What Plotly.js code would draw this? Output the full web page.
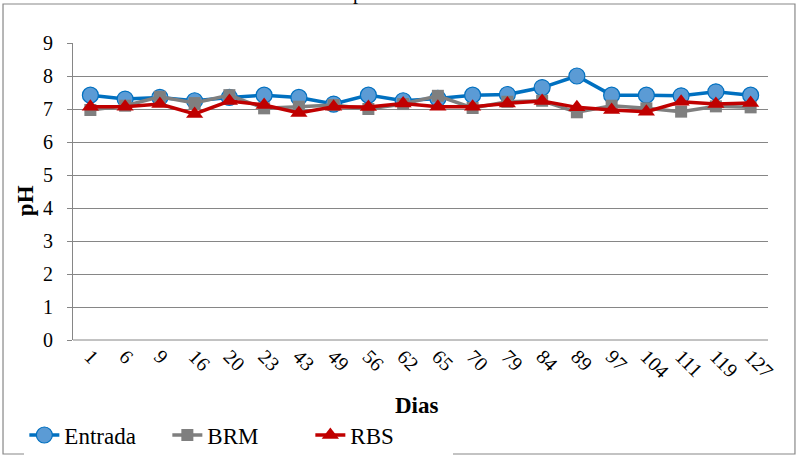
<!DOCTYPE html>
<html>
<head>
<meta charset="utf-8">
<script src="https://cdn.plot.ly/plotly-3.0.1.min.js"></script>
<style>
html,body{margin:0;padding:0;background:#fff;}
#chart{width:796px;height:455px;}
</style>
</head>
<body>
<div id="chart"></div>
<script>
var dias = ["1","6","9","16","20","23","43","49","56","62","65","70","79","84","89","97","104","111","119","127"];
var entrada = [7.42, 7.3, 7.35, 7.25, 7.35, 7.42, 7.35, 7.15, 7.42, 7.25, 7.32, 7.42, 7.44, 7.65, 8.0, 7.42, 7.42, 7.4, 7.52, 7.42];
var brm = [6.97, 7.1, 7.37, 7.18, 7.42, 7.02, 7.07, 7.12, 7.0, 7.15, 7.4, 7.03, 7.22, 7.25, 6.9, 7.1, 7.02, 6.92, 7.08, 7.05];
var rbs = [7.07, 7.07, 7.15, 6.85, 7.24, 7.12, 6.88, 7.07, 7.06, 7.17, 7.07, 7.07, 7.17, 7.24, 7.05, 6.97, 6.92, 7.22, 7.15, 7.18];
var yTicks = [0,1,2,3,4,5,6,7,8,9];

var serif = "Liberation Serif";

var traces = [
  {x: dias, y: entrada, name: "Entrada", type: "scatter", mode: "lines+markers",
   line: {color: "#0070C0", width: 3.5},
   marker: {symbol: "circle", size: 16, color: "#5B9BD5", line: {color: "#0070C0", width: 1.2}}},
  {x: dias, y: brm, name: "BRM", type: "scatter", mode: "lines+markers",
   line: {color: "#7F7F7F", width: 3.5},
   marker: {symbol: "square", size: 12, color: "#7F7F7F", line: {width: 0}}},
  {x: dias, y: rbs, name: "RBS", type: "scatter", mode: "lines+markers",
   line: {color: "#C00000", width: 3.5},
   marker: {symbol: "triangle-up", size: 15, color: "#C00000", line: {width: 0}}}
];

var layout = {
  width: 796, height: 455,
  margin: {l: 73, r: 28, t: 43, b: 115, autoexpand: false},
  paper_bgcolor: "#fff", plot_bgcolor: "#fff",
  font: {family: serif, size: 19, color: "#000"},
  showlegend: true,
  legend: {orientation: "h", x: -0.07, xanchor: "left", y: -0.32, yanchor: "middle",
           font: {family: serif, size: 23, color: "#000"}, entrywidth: 98, entrywidthmode: "pixels",
           tracegroupgap: 0},
  xaxis: {type: "category", tickangle: 45, showgrid: false, zeroline: false, automargin: false,
          showline: false, ticks: "", tickfont: {family: serif, size: 20},
          range: [-0.5, dias.length - 0.5], fixedrange: true},
  yaxis: {range: [0, 9], tickvals: yTicks, ticktext: yTicks.map(String), automargin: false,
          showgrid: true, gridcolor: "#868686", gridwidth: 1,
          zeroline: false, showline: true, linecolor: "#868686", linewidth: 1,
          ticks: "outside", ticklen: 5, tickcolor: "#868686",
          ticklabelstandoff: 10,
          tickfont: {family: serif, size: 20}, fixedrange: true},
  shapes: [
    {type: "line", xref: "paper", yref: "paper", x0: 0, x1: 1, y0: 0, y1: 0,
     line: {color: "#868686", width: 1}},
    {type: "rect", xref: "paper", yref: "paper",
     x0: -0.1007, x1: 1.0388, y0: -0.3838, y1: 1.1313,
     line: {color: "#888888", width: 1.2}}
  ],
  annotations: [
    {text: "<b>Dias</b>", xref: "paper", yref: "paper", x: 0.495, y: -0.219,
     xanchor: "center", yanchor: "middle", showarrow: false,
     font: {family: serif, size: 23, color: "#000"}},
    {text: "<b>pH</b>", xref: "paper", yref: "paper", x: -0.068, y: 0.47,
     xanchor: "center", yanchor: "middle", showarrow: false, textangle: -90,
     font: {family: serif, size: 23, color: "#000"}},
    {text: "pH", xref: "paper", yref: "paper", x: (365 - 73) / 695, y: 1 + (43 - 6) / 297,
     xanchor: "center", yanchor: "bottom", showarrow: false,
     font: {family: serif, size: 20, color: "#000"}}
  ]
};

Plotly.newPlot("chart", traces, layout, {displayModeBar: false, staticPlot: true});
</script>
</body>
</html>
